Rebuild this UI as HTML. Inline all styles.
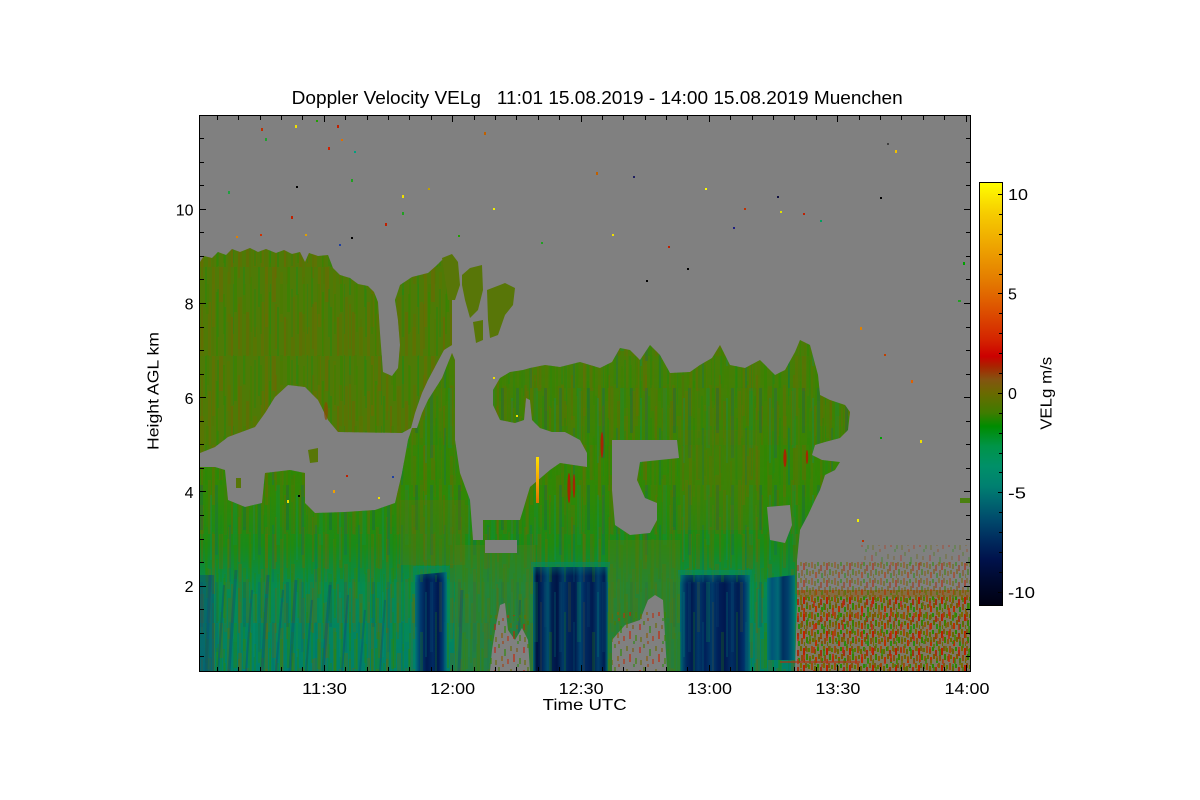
<!DOCTYPE html>
<html><head><meta charset="utf-8"><style>
html,body{margin:0;padding:0;background:#fff;}
svg{display:block;}
text{font-family:"Liberation Sans",Arial,sans-serif;fill:#000;}
</style></head><body>
<svg width="1200" height="800" viewBox="0 0 1200 800" xmlns="http://www.w3.org/2000/svg">
<defs>
<clipPath id="pc"><rect x="200" y="116" width="770" height="555"/></clipPath>
<linearGradient id="cb" x1="0" y1="182" x2="0" y2="606" gradientUnits="userSpaceOnUse">
<stop offset="0" stop-color="#ffff00"/><stop offset="0.074" stop-color="#f6cc00"/><stop offset="0.152" stop-color="#eea400"/>
<stop offset="0.231" stop-color="#e47c00"/><stop offset="0.278" stop-color="#e06000"/><stop offset="0.325" stop-color="#da4200"/>
<stop offset="0.372" stop-color="#d42400"/><stop offset="0.411" stop-color="#cc0000"/><stop offset="0.435" stop-color="#a82400"/>
<stop offset="0.466" stop-color="#845410"/><stop offset="0.498" stop-color="#6a6a00"/><stop offset="0.545" stop-color="#3e7c00"/>
<stop offset="0.576" stop-color="#008c00"/><stop offset="0.623" stop-color="#009448"/><stop offset="0.670" stop-color="#009068"/>
<stop offset="0.717" stop-color="#008070"/><stop offset="0.749" stop-color="#006a70"/><stop offset="0.796" stop-color="#004a6c"/>
<stop offset="0.843" stop-color="#002c5e"/><stop offset="0.890" stop-color="#00124c"/><stop offset="0.937" stop-color="#000a30"/>
<stop offset="1" stop-color="#000010"/>
</linearGradient>
<linearGradient id="mg" x1="0" y1="340" x2="0" y2="671" gradientUnits="userSpaceOnUse">
<stop offset="0" stop-color="#4a7c06"/><stop offset="0.27" stop-color="#3c8204"/><stop offset="0.48" stop-color="#2e8806"/>
<stop offset="0.62" stop-color="#1a8a18"/><stop offset="0.74" stop-color="#068a50"/><stop offset="1" stop-color="#00806a"/>
</linearGradient>
<linearGradient id="b1" x1="415" y1="0" x2="447" y2="0" gradientUnits="userSpaceOnUse">
<stop offset="0" stop-color="#007a74"/><stop offset="0.16" stop-color="#003c70"/><stop offset="0.37" stop-color="#001a50"/>
<stop offset="0.56" stop-color="#002a62"/><stop offset="0.72" stop-color="#001850"/><stop offset="0.87" stop-color="#003a6e"/><stop offset="1" stop-color="#007a74"/>
</linearGradient>
<linearGradient id="b2" x1="533" y1="0" x2="608" y2="0" gradientUnits="userSpaceOnUse">
<stop offset="0" stop-color="#006a74"/><stop offset="0.05" stop-color="#001040"/><stop offset="0.13" stop-color="#002a60"/>
<stop offset="0.2" stop-color="#00506e"/><stop offset="0.25" stop-color="#002050"/><stop offset="0.32" stop-color="#001446"/>
<stop offset="0.4" stop-color="#003a68"/><stop offset="0.47" stop-color="#00245a"/><stop offset="0.56" stop-color="#001c50"/>
<stop offset="0.63" stop-color="#004470"/><stop offset="0.69" stop-color="#002a60"/><stop offset="0.79" stop-color="#001a50"/>
<stop offset="0.87" stop-color="#003e6a"/><stop offset="0.95" stop-color="#001c52"/><stop offset="1" stop-color="#006a74"/>
</linearGradient>
<linearGradient id="b3" x1="680" y1="0" x2="750" y2="0" gradientUnits="userSpaceOnUse">
<stop offset="0" stop-color="#006a74"/><stop offset="0.09" stop-color="#002a60"/><stop offset="0.17" stop-color="#001a50"/>
<stop offset="0.26" stop-color="#003868"/><stop offset="0.36" stop-color="#00205a"/><stop offset="0.46" stop-color="#003c6a"/>
<stop offset="0.54" stop-color="#00205a"/><stop offset="0.64" stop-color="#001850"/><stop offset="0.74" stop-color="#002e62"/>
<stop offset="0.83" stop-color="#001c52"/><stop offset="0.91" stop-color="#00306a"/><stop offset="1" stop-color="#007070"/>
</linearGradient>
<linearGradient id="b4" x1="767" y1="0" x2="795" y2="0" gradientUnits="userSpaceOnUse">
<stop offset="0" stop-color="#007a70"/><stop offset="0.18" stop-color="#005478"/><stop offset="0.39" stop-color="#006a76"/>
<stop offset="0.57" stop-color="#003060"/><stop offset="0.75" stop-color="#00406c"/><stop offset="1" stop-color="#007a70"/>
</linearGradient>
<linearGradient id="tealfade" x1="0" y1="0" x2="0" y2="1">
<stop offset="0" stop-color="#00886a" stop-opacity="1"/><stop offset="1" stop-color="#00886a" stop-opacity="0"/>
</linearGradient>
<linearGradient id="yel" x1="0" y1="457" x2="0" y2="503" gradientUnits="userSpaceOnUse">
<stop offset="0" stop-color="#ffe000"/><stop offset="0.5" stop-color="#f4a800"/><stop offset="1" stop-color="#e07000"/>
</linearGradient>
<pattern id="stU" width="53" height="89" patternUnits="userSpaceOnUse">
<rect x="0" y="0" width="3" height="60" fill="#6e6a00" opacity=".5"/>
<rect x="4" y="25" width="2" height="64" fill="#2c8a00" opacity=".5"/>
<rect x="7" y="0" width="4" height="35" fill="#7a6000" opacity=".4"/>
<rect x="12" y="40" width="2" height="49" fill="#1e8a10" opacity=".45"/>
<rect x="15" y="5" width="3" height="50" fill="#5e7400" opacity=".45"/>
<rect x="19" y="50" width="2" height="39" fill="#8a5400" opacity=".35"/>
<rect x="22" y="0" width="3" height="45" fill="#2e8800" opacity=".5"/>
<rect x="26" y="30" width="4" height="59" fill="#6a6800" opacity=".4"/>
<rect x="31" y="0" width="2" height="28" fill="#1a8c18" opacity=".45"/>
<rect x="34" y="45" width="3" height="44" fill="#7c5c00" opacity=".35"/>
<rect x="38" y="10" width="2" height="55" fill="#388600" opacity=".45"/>
<rect x="41" y="60" width="4" height="29" fill="#646e00" opacity=".45"/>
<rect x="46" y="0" width="2" height="40" fill="#228a10" opacity=".45"/>
<rect x="49" y="35" width="3" height="54" fill="#746600" opacity=".4"/>
</pattern>
<pattern id="stV" width="37" height="71" patternUnits="userSpaceOnUse">
<rect x="1" y="10" width="2" height="40" fill="#2a8a00" opacity=".35"/>
<rect x="6" y="30" width="3" height="41" fill="#6e6600" opacity=".3"/>
<rect x="11" y="0" width="1" height="50" fill="#188a20" opacity=".35"/>
<rect x="16" y="20" width="2" height="45" fill="#7a5c00" opacity=".3"/>
<rect x="21" y="0" width="3" height="30" fill="#3a8400" opacity=".35"/>
<rect x="27" y="35" width="2" height="36" fill="#5a7200" opacity=".3"/>
<rect x="32" y="5" width="2" height="48" fill="#208a10" opacity=".35"/>
</pattern>
<pattern id="stL" width="43" height="97" patternUnits="userSpaceOnUse">
<rect x="0" y="0" width="3" height="70" fill="#0a5a7a" opacity=".35"/>
<rect x="5" y="30" width="2" height="67" fill="#1a8a10" opacity=".4"/>
<rect x="9" y="0" width="3" height="50" fill="#6a6a08" opacity=".3"/>
<rect x="14" y="40" width="2" height="57" fill="#006a78" opacity=".35"/>
<rect x="18" y="0" width="4" height="60" fill="#08904a" opacity=".4"/>
<rect x="24" y="20" width="2" height="77" fill="#7a6010" opacity=".25"/>
<rect x="28" y="0" width="3" height="45" fill="#0a5070" opacity=".35"/>
<rect x="33" y="50" width="3" height="47" fill="#2a8a00" opacity=".4"/>
<rect x="38" y="10" width="2" height="65" fill="#00907a" opacity=".35"/>
</pattern>
<pattern id="sp1" width="23" height="17" patternUnits="userSpaceOnUse">
<rect x="0" y="0" width="2" height="5" fill="#7a5a10"/><rect x="3" y="2" width="2" height="4" fill="#5a7a00"/>
<rect x="6" y="0" width="2" height="7" fill="#a04a10"/><rect x="9" y="3" width="2" height="5" fill="#6a6a00"/>
<rect x="12" y="1" width="2" height="4" fill="#2a8a00"/><rect x="15" y="4" width="2" height="6" fill="#a03010"/>
<rect x="18" y="0" width="2" height="5" fill="#7a6a00"/><rect x="21" y="2" width="2" height="7" fill="#b82000"/>
<rect x="1" y="8" width="2" height="6" fill="#3a8000"/><rect x="4" y="10" width="2" height="5" fill="#8a5a10"/>
<rect x="7" y="9" width="2" height="4" fill="#6a6a00"/><rect x="10" y="11" width="2" height="6" fill="#b83000"/>
<rect x="13" y="8" width="2" height="5" fill="#7a5a00"/><rect x="16" y="12" width="2" height="5" fill="#2a8a10"/>
<rect x="19" y="9" width="2" height="6" fill="#8a5010"/><rect x="22" y="13" width="1" height="4" fill="#6a7000"/>
</pattern>
<pattern id="sp2" width="29" height="23" patternUnits="userSpaceOnUse">
<rect x="1" y="3" width="2" height="6" fill="#c02010"/><rect x="5" y="0" width="2" height="4" fill="#4a7a00"/>
<rect x="8" y="12" width="2" height="5" fill="#8a5a00"/><rect x="11" y="5" width="2" height="7" fill="#2a8a00"/>
<rect x="14" y="15" width="2" height="5" fill="#b83010"/><rect x="17" y="2" width="2" height="5" fill="#6a6a00"/>
<rect x="20" y="10" width="2" height="8" fill="#c82000"/><rect x="23" y="4" width="2" height="4" fill="#7a5810"/>
<rect x="26" y="14" width="2" height="6" fill="#3a8600"/><rect x="2" y="16" width="2" height="5" fill="#6a6a00"/>
<rect x="9" y="20" width="2" height="3" fill="#a04010"/><rect x="24" y="20" width="2" height="3" fill="#2a8a10"/>
</pattern>
<polygon id="ucl" points="200,262 204,256 212,258 218,252 226,255 232,249 240,252 250,248 258,252 266,249 276,253 284,250 292,254 300,252 305,262 309,253 318,256 328,255 333,268 340,275 350,278 358,284 368,286 374,292 378,302 380,333 383,372 392,376 398,368 400,345 398,320 395,300 400,285 412,277 428,273 436,266 442,260 448,264 452,300 452,345 444,350 428,380 422,393 415,413 411,428 402,433 338,432 328,420 318,400 305,387 288,385 275,397 265,413 255,427 228,437 215,447 200,453"/>
<polygon id="mass" points="200,671 200,467 215,467 225,470 228,500 245,507 262,503 265,473 290,470 305,473 305,503 315,513 345,512 375,510 395,503 402,473 408,440 412,428 417,428 422,413 428,400 442,378 452,353 455,360 455,440 460,473 470,500 473,540 483,540 483,520 520,520 530,487 550,470 560,463 587,467 587,453 580,440 565,432 552,432 540,428 532,420 530,400 526,398 524,420 515,423 500,420 493,405 493,390 500,378 510,372 523,370 530,368 545,365 560,367 580,362 600,368 612,362 620,348 630,350 640,360 650,345 660,355 670,373 690,372 700,365 712,358 720,345 730,365 745,368 760,360 775,375 785,370 795,352 800,340 810,345 818,375 820,395 830,400 845,405 850,412 848,430 840,438 825,442 815,445 812,455 822,460 840,462 835,470 825,475 820,490 815,500 808,515 800,530 797,560 797,600 795,671"/>
</defs>

<rect width="1200" height="800" fill="#fff"/>

<g clip-path="url(#pc)">
<rect x="200" y="115" width="770" height="556" fill="#808080"/>

<!-- upper left cloud -->
<use href="#ucl" fill="#4e7a06"/>
<use href="#ucl" fill="url(#stU)"/>
<use href="#ucl" fill="url(#stV)"/>
<ellipse cx="326" cy="411" rx="2" ry="9" fill="#8a4a00" opacity=".7"/>

<!-- fragments -->
<g fill="#587608">
<polygon points="442,258 452,254 458,262 460,285 455,300 448,300"/>
<polygon points="462,275 470,268 482,265 483,290 478,310 470,318 465,300 462,285"/>
<polygon points="487,290 500,285 505,283 515,288 513,305 505,315 498,335 490,338 488,320"/>
<polygon points="473,322 483,320 483,340 476,343"/>
<polygon points="308,450 318,448 318,462 310,463"/>
<polygon points="236,478 241,478 241,488 236,488"/>
</g>

<!-- main lower mass + middle cloud -->
<use href="#mass" fill="url(#mg)"/>
<use href="#mass" fill="url(#stU)" opacity=".75"/>
<use href="#mass" fill="url(#stV)"/>
<use href="#mass" fill="url(#stL)" opacity=".7"/>

<!-- regional tints -->
<rect x="455" y="545" width="80" height="126" fill="#4a7c18" opacity=".45"/>
<rect x="400" y="500" width="65" height="65" fill="#5e7408" opacity=".35"/>
<rect x="608" y="540" width="72" height="131" fill="#4a7c10" opacity=".5"/>
<rect x="680" y="430" width="80" height="100" fill="#6a6c08" opacity=".2"/>
<rect x="200" y="575" width="14" height="96" fill="#0a4a78" opacity=".45"/>

<!-- dark streaks lower left -->
<g stroke="#0a4a78" stroke-opacity=".4" fill="none">
<line x1="210" y1="575" x2="206" y2="671" stroke-width="3"/>
<line x1="224" y1="585" x2="218" y2="671" stroke-width="2"/>
<line x1="236" y1="570" x2="229" y2="671" stroke-width="3"/>
<line x1="252" y1="590" x2="246" y2="671" stroke-width="2"/>
<line x1="268" y1="575" x2="262" y2="671" stroke-width="3"/>
<line x1="283" y1="590" x2="276" y2="671" stroke-width="2"/>
<line x1="296" y1="580" x2="290" y2="671" stroke-width="3"/>
<line x1="312" y1="600" x2="306" y2="671" stroke-width="2"/>
<line x1="330" y1="585" x2="323" y2="671" stroke-width="3"/>
<line x1="348" y1="595" x2="342" y2="671" stroke-width="2"/>
<line x1="365" y1="610" x2="360" y2="671" stroke-width="2"/>
<line x1="385" y1="600" x2="380" y2="671" stroke-width="2"/>
<line x1="462" y1="590" x2="459" y2="671" stroke-width="3"/>
<line x1="520" y1="600" x2="518" y2="671" stroke-width="2"/>
</g>

<!-- grey holes -->
<g fill="#808080">
<polygon points="612,440 677,440 679,458 640,462 637,480 645,498 657,503 657,520 650,533 630,535 615,525 612,490"/>
<rect x="485" y="540" width="32" height="13"/>
<polygon points="767,507 790,505 792,525 785,543 770,540"/>
<polygon points="490,671 492,650 496,625 500,605 505,603 508,630 515,640 522,628 528,640 530,671"/>
<polygon points="612,671 612,640 625,625 640,620 648,600 655,595 663,600 667,671"/>
</g>
<rect x="490" y="615" width="40" height="56" fill="url(#sp2)" opacity=".55"/>
<rect x="612" y="612" width="55" height="59" fill="url(#sp2)" opacity=".55"/>

<!-- blue blocks -->
<polygon points="415,575 447,572 447,671 415,671" fill="url(#b1)"/>
<rect x="413" y="566" width="36" height="14" fill="url(#tealfade)" opacity=".6"/>
<polygon points="533,567 608,567 608,671 533,671" fill="url(#b2)"/>
<rect x="531" y="562" width="79" height="14" fill="url(#tealfade)" opacity=".6"/>
<polygon points="680,575 750,575 750,671 680,671" fill="url(#b3)"/>
<rect x="678" y="570" width="74" height="14" fill="url(#tealfade)" opacity=".6"/>
<polygon points="767,578 795,575 795,660 767,660" fill="url(#b4)"/>
<g fill="url(#stL)" opacity=".6">
<rect x="415" y="575" width="32" height="96"/>
<rect x="533" y="567" width="75" height="104"/>
<rect x="680" y="575" width="70" height="96"/>
</g>

<!-- red / yellow streaks -->
<rect x="536" y="457" width="3" height="46" fill="url(#yel)"/>
<g fill="#c01000" opacity=".8">
<ellipse cx="569" cy="488" rx="1.6" ry="15"/>
<ellipse cx="574" cy="486" rx="1.2" ry="12"/>
<ellipse cx="602" cy="445" rx="1.5" ry="13"/>
<ellipse cx="785" cy="458" rx="1.6" ry="9"/>
<ellipse cx="807" cy="457" rx="1.2" ry="7"/>
</g>

<!-- speckle region right -->
<rect x="860" y="545" width="110" height="20" fill="url(#sp2)" opacity=".3"/>
<rect x="797" y="562" width="173" height="28" fill="url(#sp1)" opacity=".5"/>
<rect x="797" y="590" width="173" height="81" fill="#7a6a30" opacity=".35"/>
<rect x="797" y="590" width="173" height="81" fill="url(#sp1)"/>
<rect x="797" y="590" width="173" height="81" fill="url(#sp2)" opacity=".7"/>
<rect x="797" y="590" width="173" height="7" fill="#8a6020" opacity=".5"/>
<rect x="780" y="661" width="80" height="2" fill="#b03010" opacity=".6"/>

<!-- stray dots -->
<g>
<rect x="261" y="128" width="2" height="3" fill="#c03000"/><rect x="295" y="125" width="2" height="3" fill="#f0e000"/>
<rect x="316" y="120" width="2" height="2" fill="#20a000"/><rect x="337" y="125" width="2" height="3" fill="#c02000"/>
<rect x="265" y="138" width="2" height="3" fill="#20a030"/><rect x="328" y="147" width="2" height="3" fill="#d02000"/>
<rect x="341" y="139" width="2" height="2" fill="#e07000"/><rect x="354" y="151" width="2" height="2" fill="#00a080"/>
<rect x="351" y="179" width="2" height="3" fill="#20a020"/><rect x="228" y="191" width="2" height="3" fill="#20a040"/>
<rect x="296" y="186" width="2" height="2" fill="#000"/><rect x="402" y="195" width="2" height="3" fill="#f0e000"/>
<rect x="402" y="212" width="2" height="3" fill="#20a020"/><rect x="291" y="216" width="2" height="3" fill="#c02000"/>
<rect x="385" y="223" width="2" height="3" fill="#c02000"/><rect x="236" y="236" width="2" height="2" fill="#e08000"/>
<rect x="260" y="234" width="2" height="2" fill="#d03000"/><rect x="305" y="234" width="2" height="2" fill="#e0a000"/>
<rect x="351" y="237" width="2" height="2" fill="#000"/><rect x="339" y="244" width="2" height="2" fill="#2040a0"/>
<rect x="484" y="132" width="2" height="3" fill="#c06000"/><rect x="633" y="176" width="2" height="2" fill="#202060"/>
<rect x="596" y="172" width="2" height="3" fill="#c06000"/><rect x="705" y="188" width="2" height="2" fill="#ffff00"/>
<rect x="777" y="196" width="2" height="2" fill="#101040"/><rect x="887" y="143" width="2" height="2" fill="#404040"/>
<rect x="895" y="150" width="2" height="3" fill="#f0c000"/><rect x="880" y="197" width="2" height="2" fill="#000"/>
<rect x="820" y="220" width="2" height="2" fill="#00a060"/><rect x="744" y="208" width="2" height="2" fill="#c03000"/>
<rect x="963" y="262" width="2" height="3" fill="#00a000"/><rect x="687" y="268" width="2" height="2" fill="#000"/>
<rect x="646" y="280" width="2" height="2" fill="#000"/><rect x="541" y="242" width="2" height="2" fill="#20a020"/>
<rect x="493" y="208" width="2" height="2" fill="#f0f000"/><rect x="860" y="327" width="2" height="3" fill="#e08000"/>
<rect x="884" y="354" width="2" height="2" fill="#c04000"/><rect x="911" y="380" width="2" height="3" fill="#e06000"/>
<rect x="920" y="440" width="2" height="3" fill="#f0e000"/><rect x="880" y="437" width="2" height="2" fill="#00a000"/>
<rect x="857" y="519" width="2" height="3" fill="#f0f000"/><rect x="862" y="540" width="2" height="2" fill="#c03000"/>
<rect x="958" y="300" width="3" height="2" fill="#20a020"/><rect x="612" y="234" width="2" height="2" fill="#f0e000"/>
<rect x="733" y="227" width="2" height="2" fill="#202080"/><rect x="668" y="246" width="2" height="2" fill="#c02000"/>
<rect x="803" y="213" width="2" height="2" fill="#c02000"/><rect x="780" y="211" width="2" height="2" fill="#e0e000"/>
<rect x="458" y="235" width="2" height="2" fill="#20a000"/><rect x="428" y="188" width="2" height="2" fill="#c0a000"/>
<rect x="287" y="500" width="2" height="3" fill="#f0e000"/><rect x="298" y="495" width="2" height="2" fill="#000"/>
<rect x="333" y="490" width="2" height="3" fill="#f0a000"/><rect x="346" y="475" width="2" height="2" fill="#c02000"/>
<rect x="392" y="476" width="2" height="2" fill="#2040a0"/><rect x="378" y="497" width="2" height="2" fill="#f0e000"/>
<rect x="493" y="377" width="2" height="2" fill="#f0e000"/><rect x="516" y="415" width="2" height="2" fill="#f0e000"/>
<rect x="960" y="498" width="10" height="5" fill="#4a8010"/>
</g>
</g>

<!-- frame -->
<rect x="199.5" y="115.5" width="771" height="556" fill="none" stroke="#000" stroke-width="1"/>

<!-- x ticks bottom & top -->
<g stroke="#000" stroke-width="1">
<path d="M217.5,671v-4M238.5,671v-4M260.5,671v-4M281.5,671v-4M302.5,671v-4M324.5,671v-6M345.5,671v-4M367.5,671v-4M388.5,671v-4M409.5,671v-4M431.5,671v-4M452.5,671v-6M474.5,671v-4M495.5,671v-4M516.5,671v-4M538.5,671v-4M559.5,671v-4M581.5,671v-6M602.5,671v-4M623.5,671v-4M645.5,671v-4M666.5,671v-4M687.5,671v-4M709.5,671v-6M730.5,671v-4M752.5,671v-4M773.5,671v-4M794.5,671v-4M816.5,671v-4M837.5,671v-6M859.5,671v-4M880.5,671v-4M901.5,671v-4M923.5,671v-4M944.5,671v-4M966.5,671v-6"/>
<path d="M217.5,116v4M238.5,116v4M260.5,116v4M281.5,116v4M302.5,116v4M324.5,116v6M345.5,116v4M367.5,116v4M388.5,116v4M409.5,116v4M431.5,116v4M452.5,116v6M474.5,116v4M495.5,116v4M516.5,116v4M538.5,116v4M559.5,116v4M581.5,116v6M602.5,116v4M623.5,116v4M645.5,116v4M666.5,116v4M687.5,116v4M709.5,116v6M730.5,116v4M752.5,116v4M773.5,116v4M794.5,116v4M816.5,116v4M837.5,116v6M859.5,116v4M880.5,116v4M901.5,116v4M923.5,116v4M944.5,116v4M966.5,116v6"/>
<path d="M200,656.5h4M200,633.5h4M200,609.5h4M200,586.5h6M200,562.5h4M200,539.5h4M200,515.5h4M200,491.5h6M200,468.5h4M200,444.5h4M200,421.5h4M200,397.5h6M200,374.5h4M200,350.5h4M200,327.5h4M200,303.5h6M200,279.5h4M200,256.5h4M200,232.5h4M200,209.5h6M200,185.5h4M200,162.5h4M200,138.5h4"/>
<path d="M970,656.5h-4M970,633.5h-4M970,609.5h-4M970,586.5h-6M970,562.5h-4M970,539.5h-4M970,515.5h-4M970,491.5h-6M970,468.5h-4M970,444.5h-4M970,421.5h-4M970,397.5h-6M970,374.5h-4M970,350.5h-4M970,327.5h-4M970,303.5h-6M970,279.5h-4M970,256.5h-4M970,232.5h-4M970,209.5h-6M970,185.5h-4M970,162.5h-4M970,138.5h-4"/>
</g>

<!-- colorbar -->
<rect x="979.5" y="182.5" width="23" height="423" fill="url(#cb)" stroke="#000" stroke-width="1"/>
<g stroke="#000" stroke-width="1">
<path d="M1002,194.5h-4M1002,214.5h-3M1002,234.5h-3M1002,254.5h-3M1002,274.5h-3M1002,293.5h-4M1002,313.5h-3M1002,333.5h-3M1002,353.5h-3M1002,373.5h-3M1002,393.5h-4M1002,413.5h-3M1002,433.5h-3M1002,453.5h-3M1002,472.5h-3M1002,492.5h-4M1002,512.5h-3M1002,532.5h-3M1002,552.5h-3M1002,572.5h-3M1002,592.5h-4"/>
</g>

<!-- texts -->
<text x="291.7" y="104" font-size="18" textLength="611" lengthAdjust="spacingAndGlyphs" style="white-space:pre">Doppler Velocity VELg   11:01 15.08.2019 - 14:00 15.08.2019 Muenchen</text>

<g font-size="16" text-anchor="end">
<text x="193.5" y="215.5">10</text>
<text x="193.5" y="309.7">8</text>
<text x="193.5" y="403.9">6</text>
<text x="193.5" y="498">4</text>
<text x="193.5" y="592.2">2</text>
</g>

<g font-size="16" text-anchor="middle">
<text x="324.5" y="694" textLength="45" lengthAdjust="spacingAndGlyphs">11:30</text>
<text x="452.7" y="694" textLength="45" lengthAdjust="spacingAndGlyphs">12:00</text>
<text x="581.2" y="694" textLength="45" lengthAdjust="spacingAndGlyphs">12:30</text>
<text x="709.5" y="694" textLength="45" lengthAdjust="spacingAndGlyphs">13:00</text>
<text x="837.9" y="694" textLength="45" lengthAdjust="spacingAndGlyphs">13:30</text>
<text x="967" y="694" textLength="45" lengthAdjust="spacingAndGlyphs">14:00</text>
</g>

<text x="542.7" y="710" font-size="16" textLength="84" lengthAdjust="spacingAndGlyphs">Time UTC</text>
<text transform="translate(158.3,391) rotate(-90)" font-size="16" text-anchor="middle" textLength="118" lengthAdjust="spacingAndGlyphs">Height AGL km</text>
<text transform="translate(1051.7,393.3) rotate(-90)" font-size="16" text-anchor="middle" textLength="73" lengthAdjust="spacingAndGlyphs">VELg m/s</text>

<g font-size="16">
<text x="1008" y="199.8" textLength="20" lengthAdjust="spacingAndGlyphs">10</text>
<text x="1008" y="299.3">5</text>
<text x="1008" y="398.8">0</text>
<text x="1008" y="498.3" textLength="18" lengthAdjust="spacingAndGlyphs">-5</text>
<text x="1008" y="597.8" textLength="27" lengthAdjust="spacingAndGlyphs">-10</text>
</g>
</svg>
</body></html>
